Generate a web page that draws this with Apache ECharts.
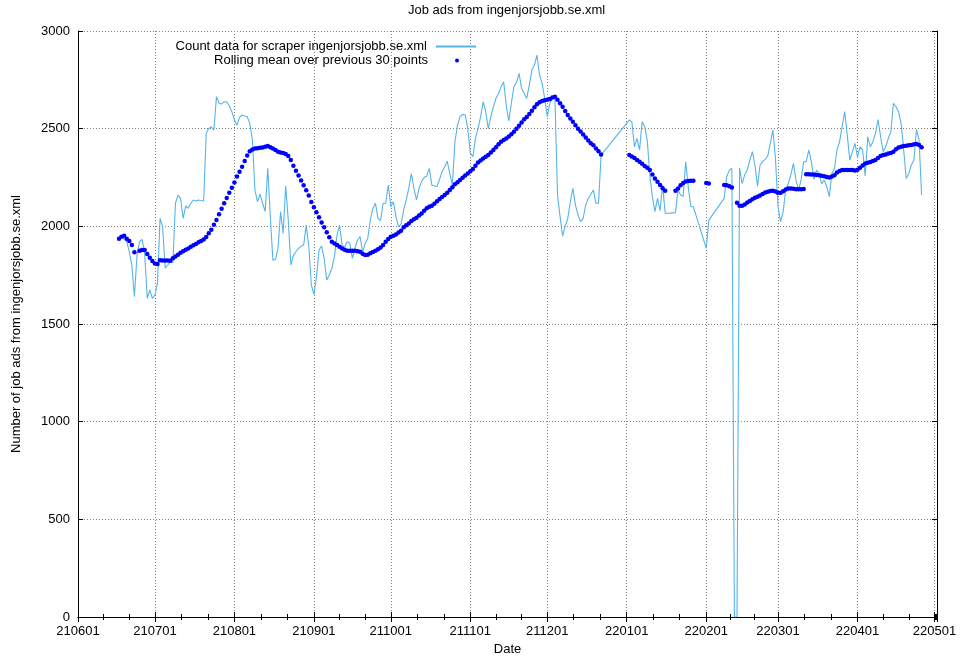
<!DOCTYPE html>
<html>
<head>
<meta charset="utf-8">
<script src="https://cdn.jsdelivr.net/npm/echarts@6/dist/echarts.min.js"></script>
<style>html,body{margin:0;padding:0;background:#fff;}#chart{width:961px;height:662px;}</style>
</head>
<body>
<div id="chart"></div>
<script>
// One value per day, starting 2021-06-17 (null = no sample that day)
const firstDay = [2021, 5, 17];
const counts = [
  1950,1950,1935,1921,1870,1800,1640,1850,1921,1933,
  1862,1631,1674,1631,1648,1708,2041,1998,1786,1802,
  1819,1813,2118,2160,2143,2041,2104,2092,2118,2135,
  2130,2135,2132,2130,2476,2501,2510,2493,2664,2630,
  2626,2638,2638,2616,2587,2544,2518,2558,2570,2565,
  2561,2527,2442,2186,2126,2165,2118,2075,2297,2050,
  1827,1830,1887,2075,1964,2206,2032,1802,1850,1870,
  1887,1899,1904,2006,1900,1700,1650,1742,1879,1899,
  1836,1725,1751,1785,1845,1955,2006,1904,1893,1921,
  1913,1836,1887,1930,1947,1870,1913,1938,2032,2092,
  2118,2041,2030,2118,2118,2211,2100,2126,2050,1998,
  2010,2083,2135,2194,2270,2194,2135,2194,2230,2250,
  2258,2297,2211,2208,2203,2240,2280,2305,2334,2270,
  2211,2433,2518,2561,2573,2570,2501,2375,2356,2450,
  2501,2560,2638,2587,2500,2561,2612,2655,2680,2715,
  2740,2620,2540,2630,2715,2736,2783,2706,2680,2655,
  2723,2800,2826,2876,2774,2732,2655,2561,2630,2655,
  2655,2160,2050,1950,2000,2040,2126,2194,2109,2058,
  2024,2041,2109,2143,2164,2186,2118,2118,2365,null,
  null,null,null,null,null,null,null,null,null,2544,
  2535,2407,2450,2391,2535,2510,2440,2263,2152,2075,
  2143,2080,2211,2066,null,null,null,2070,2186,2160,
  2152,2331,2200,2100,2100,null,null,null,null,1887,
  2032,null,null,null,null,null,2143,2254,2288,2296,
  0,0,2300,2219,2263,2288,2339,2382,2314,2206,
  2314,2331,2343,2360,2425,2493,2347,2100,2024,2075,
  2186,2219,2263,2322,2237,2186,2237,2331,2331,2391,
  2331,2240,2288,2271,2219,2237,2203,2152,2271,2296,
  2391,2433,2510,2587,2467,2339,2382,2425,2356,2407,
  2391,2258,2459,2407,2433,2476,2547,2459,2382,2407,
  2450,2484,2630,2612,2587,2527,2391,2245,2271,2314,
  2339,2496,2442,2160
];
const rollingMean = [
  1937,1947,1952,1937,1925,1904,1867,null,1875,1879,
  1879,1858,1839,1822,1810,1807,1827,1825,1825,1825,
  1824,1836,1845,1855,1865,1872,1880,1887,1895,1903,
  1910,1918,1925,1933,1945,1965,1983,2008,2032,2062,
  2090,2118,2145,2172,2198,2225,2255,2280,2305,2335,
  2362,2385,2393,2398,2400,2402,2403,2407,2411,2405,
  2398,2391,2382,2378,2376,2370,2360,2340,2310,2285,
  2260,2235,2210,2185,2158,2125,2098,2072,2046,2020,
  1995,1970,1944,1921,1912,1905,1896,1887,1880,1875,
  1875,1875,1875,1872,1870,1860,1853,1855,1862,1868,
  1875,1883,1891,1905,1921,1935,1947,1952,1958,1968,
  1978,1995,2005,2015,2027,2036,2044,2055,2066,2080,
  2092,2100,2106,2115,2128,2140,2150,2160,2172,2186,
  2200,2215,2226,2237,2249,2260,2271,2282,2293,2310,
  2327,2337,2347,2356,2365,2378,2391,2405,2420,2433,
  2442,2450,2460,2472,2484,2500,2515,2532,2548,2560,
  2575,2592,2610,2625,2635,2642,2645,2648,2652,2660,
  2664,2648,2630,2612,2590,2570,2552,2535,2518,2500,
  2485,2470,2455,2440,2425,2415,2398,2385,2368,null,
  null,null,null,null,null,null,null,null,null,2365,
  2358,2350,2340,2330,2320,2309,2300,2288,2265,2245,
  2228,2211,2195,2182,null,null,null,2182,2194,2210,
  2222,2229,2232,2234,2234,null,null,null,null,2222,
  2219,null,null,null,null,null,2212,2210,2205,2199,
  null,2121,2106,2105,2112,2122,2130,2139,2146,2152,
  2158,2166,2173,2177,2181,2182,2178,2172,2172,2180,
  2189,2194,2194,2192,2190,2190,2190,2191,2266,2266,
  2265,2265,2263,2261,2259,2257,2252,2250,2255,2262,
  2275,2283,2288,2288,2288,2288,2288,2286,2290,2300,
  2312,2322,2326,2329,2334,2340,2350,2360,2365,2368,
  2373,2376,2382,2394,2403,2407,2411,2413,2415,2416,
  2420,2422,2416,2405
];
const monthTickLabels = ['210601','210701','210801','210901','211001','211101','211201',
  '220101','220201','220301','220401','220501'];
const axisStartDay = [2021, 5, 1];
const axisEndDay = [2022, 4, 2];
const yTicks = [0, 500, 1000, 1500, 2000, 2500, 3000];

const countName = 'Count data for scraper ingenjorsjobb.se.xml';
const meanName = 'Rolling mean over previous 30 points';
const FONT = 'Liberation Sans';

function dayStamp(i) { return Date.UTC(firstDay[0], firstDay[1], firstDay[2] + i); }
function toPairs(arr) {
  const out = [];
  arr.forEach(function (v, i) { if (v !== null) out.push([dayStamp(i), v]); });
  return out;
}
function fmtDate(v) {
  const d = new Date(v);
  const s = String(d.getUTCFullYear()).slice(2) +
    String(d.getUTCMonth() + 1).padStart(2, '0') +
    String(d.getUTCDate()).padStart(2, '0');
  return monthTickLabels.indexOf(s) >= 0 ? s : '';
}
const xMin = Date.UTC(axisStartDay[0], axisStartDay[1], axisStartDay[2]);
const xMax = Date.UTC(axisEndDay[0], axisEndDay[1], axisEndDay[2]);

const chart = echarts.init(document.getElementById('chart'), null, {renderer: 'canvas'});
const tickStyle = {color: '#000', width: 1};
const gridLine = {show: true, lineStyle: {color: '#808080', width: 1, type: [1, 2]}};
const option = {
  useUTC: true,
  animation: false,
  backgroundColor: '#fff',
  textStyle: {fontFamily: FONT},
  title: {
    text: 'Job ads from ingenjorsjobb.se.xml',
    left: 408, top: 4, padding: 0,
    textStyle: {fontFamily: FONT, fontSize: 13, fontWeight: 'normal', color: '#000'}
  },
  legend: [
    {
      data: [countName], right: 484, top: 40, padding: 0, align: 'right',
      itemWidth: 40, itemHeight: 10, selectedMode: false,
      itemStyle: {opacity: 0},
      textStyle: {fontFamily: FONT, fontSize: 13, color: '#000', padding: [0, 4, 0, 0]}
    },
    {
      data: [meanName], right: 502, top: 54, padding: 0, align: 'right',
      itemWidth: 4, itemHeight: 4, selectedMode: false,
      itemStyle: {opacity: 1},
      textStyle: {fontFamily: FONT, fontSize: 13, color: '#000', padding: [0, 22, 0, 0]}
    }
  ],
  grid: {left: 78, top: 31, width: 859, height: 586, outerBoundsMode: 'none', containLabel: false},
  xAxis: [
    {
      type: 'time', min: xMin, max: xMax, splitNumber: 11, position: 'bottom',
      name: 'Date', nameLocation: 'middle', nameGap: 26,
      nameTextStyle: {fontFamily: FONT, fontSize: 13, color: '#000'},
      axisLine: {show: true, lineStyle: tickStyle},
      axisTick: {show: true, inside: true, length: 5, lineStyle: tickStyle},
      minorTick: {show: true, splitNumber: 3, length: 3, lineStyle: tickStyle},
      splitLine: gridLine,
      axisLabel: {formatter: fmtDate, margin: 8, fontFamily: FONT, fontSize: 13, color: '#000',
        hideOverlap: false, showMinLabel: true, showMaxLabel: true}
    },
    {
      type: 'time', min: xMin, max: xMax, splitNumber: 11, position: 'top',
      axisLine: {show: true, lineStyle: tickStyle},
      axisTick: {show: true, inside: true, length: 5, lineStyle: tickStyle},
      minorTick: {show: true, splitNumber: 3, length: 3, lineStyle: tickStyle},
      splitLine: {show: false},
      axisLabel: {show: false}
    }
  ],
  yAxis: [
    {
      type: 'value', min: yTicks[0], max: yTicks[yTicks.length - 1], interval: 500, position: 'left',
      name: 'Number of job ads from ingenjorsjobb.se.xml', nameLocation: 'middle', nameGap: 55,
      nameRotate: 90,
      nameTextStyle: {fontFamily: FONT, fontSize: 13, color: '#000'},
      axisLine: {show: true, lineStyle: tickStyle},
      axisTick: {show: true, inside: true, length: 5, lineStyle: tickStyle},
      splitLine: gridLine,
      axisLabel: {margin: 8, fontFamily: FONT, fontSize: 13, color: '#000',
        formatter: function (v) { return String(v); }}
    },
    {
      type: 'value', min: yTicks[0], max: yTicks[yTicks.length - 1], interval: 500, position: 'right',
      axisLine: {show: true, lineStyle: tickStyle},
      axisTick: {show: true, inside: true, length: 5, lineStyle: tickStyle},
      splitLine: {show: false},
      axisLabel: {show: false}
    }
  ],
  series: [
    {
      name: countName, type: 'line', xAxisIndex: 0, yAxisIndex: 0,
      data: toPairs(counts), symbol: 'none', showSymbol: false,
      lineStyle: {color: '#56b4e9', width: 1.1}, itemStyle: {color: '#56b4e9'},
      connectNulls: true, z: 2
    },
    {
      name: meanName, type: 'scatter', xAxisIndex: 0, yAxisIndex: 0,
      data: toPairs(rollingMean), symbol: 'circle', symbolSize: 4.5,
      itemStyle: {color: '#0000ff', opacity: 1}, z: 3
    }
  ]
};
chart.setOption(option);
</script>
</body>
</html>
